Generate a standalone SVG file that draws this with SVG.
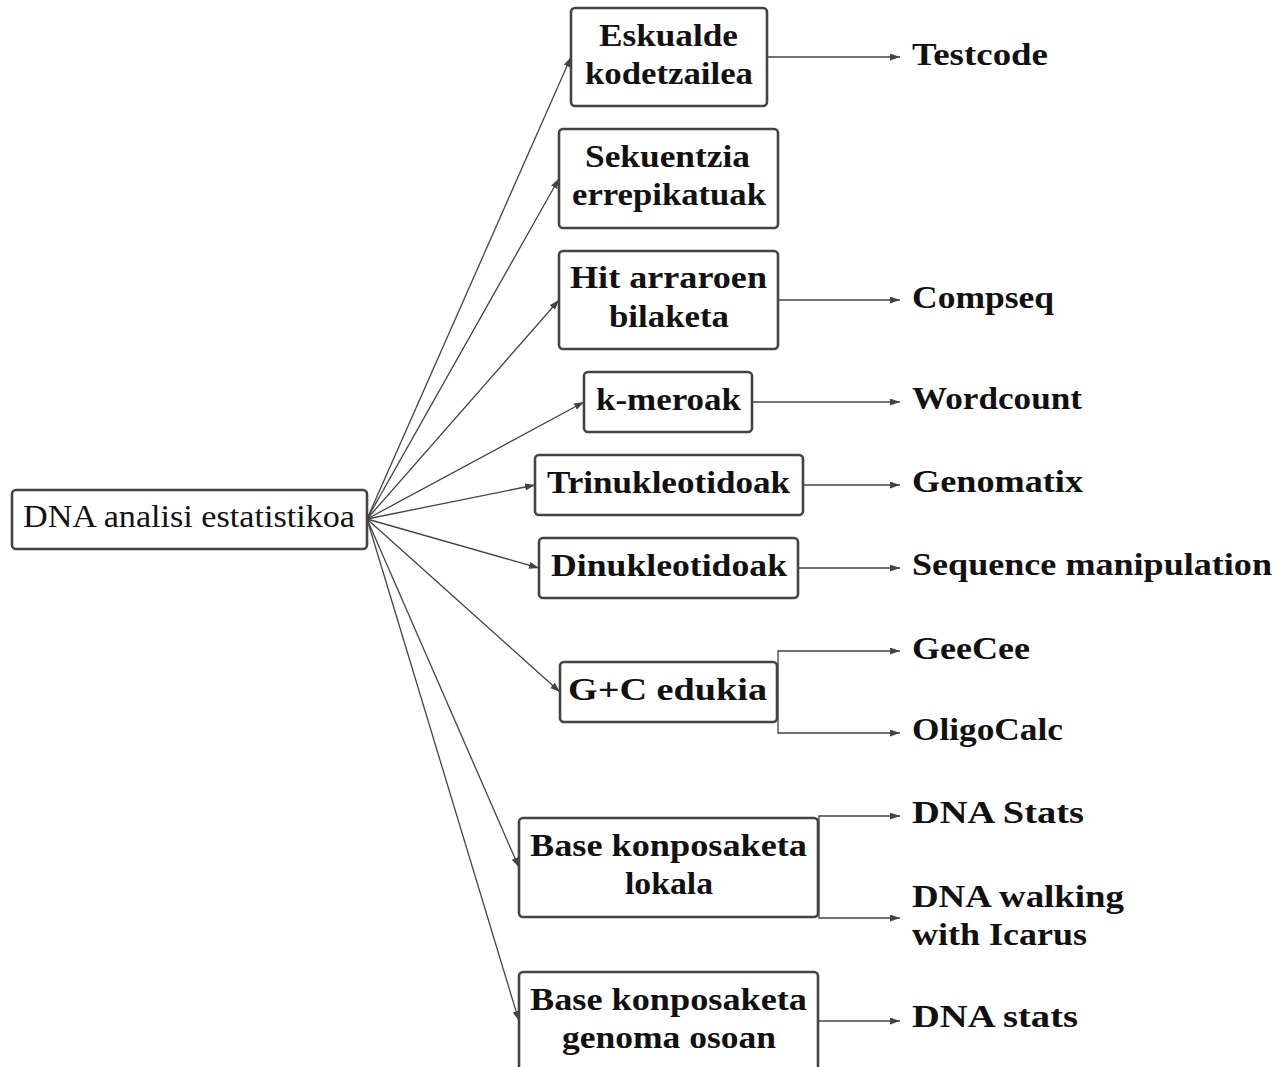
<svg xmlns="http://www.w3.org/2000/svg" width="1286" height="1067" viewBox="0 0 1286 1067">
<defs>
<marker id="arr" markerUnits="userSpaceOnUse" markerWidth="11" markerHeight="8" refX="10" refY="3.5" orient="auto">
<path d="M0,0 L10,3.5 L0,7 z" fill="#444"/>
</marker>
<style>
.box{fill:#fff;stroke:#444;stroke-width:2.6}
.b{font-family:"Liberation Serif","Times New Roman",serif;font-weight:bold;font-size:31px;fill:#111}
.r{font-family:"Liberation Serif","Times New Roman",serif;font-size:32px;fill:#111}
.c{fill:none;stroke:#444;stroke-width:1.3;marker-end:url(#arr)}
</style>
</defs>
<rect width="1286" height="1067" fill="#fff"/>
<g id="connectors">
<path class="c" d="M367,519 L571,57"/>
<path class="c" d="M367,519 L559,178.5"/>
<path class="c" d="M367,519 L559,300"/>
<path class="c" d="M367,519 L584,402"/>
<path class="c" d="M367,519 L535,485"/>
<path class="c" d="M367,519 L539,568"/>
<path class="c" d="M367,519 L560,692"/>
<path class="c" d="M367,519 L519,867.5"/>
<path class="c" d="M367,519 L519,1021"/>
<path class="c" d="M767,57 H900"/>
<path class="c" d="M778,300 H900"/>
<path class="c" d="M752,402 H900"/>
<path class="c" d="M803,485 H900"/>
<path class="c" d="M798,568 H900"/>
<path class="c" d="M778,692 V651 H900"/>
<path class="c" d="M778,692 V733 H900"/>
<path class="c" d="M819,867 V816 H900"/>
<path class="c" d="M819,867 V918 H900"/>
<path class="c" d="M818,1021 H900"/>
</g>
<g id="root">
<rect class="box" x="12" y="490" width="355" height="59" rx="4"/>
<text class="r" x="23" y="527" textLength="332" lengthAdjust="spacingAndGlyphs">DNA analisi estatistikoa</text>
</g>
<g id="n1">
<rect class="box" x="571" y="8" width="196" height="98" rx="4"/>
<text class="b" x="599" y="45.5" textLength="139" lengthAdjust="spacingAndGlyphs">Eskualde</text>
<text class="b" x="585" y="83.5" textLength="168" lengthAdjust="spacingAndGlyphs">kodetzailea</text>
</g>
<g id="n2">
<rect class="box" x="559" y="129" width="219" height="99" rx="4"/>
<text class="b" x="585" y="167" textLength="165" lengthAdjust="spacingAndGlyphs">Sekuentzia</text>
<text class="b" x="572" y="205" textLength="194" lengthAdjust="spacingAndGlyphs">errepikatuak</text>
</g>
<g id="n3">
<rect class="box" x="559" y="251" width="219" height="98" rx="4"/>
<text class="b" x="570" y="288" textLength="197" lengthAdjust="spacingAndGlyphs">Hit arraroen</text>
<text class="b" x="609" y="326.5" textLength="120" lengthAdjust="spacingAndGlyphs">bilaketa</text>
</g>
<g id="n4">
<rect class="box" x="584" y="372" width="168" height="60" rx="4"/>
<text class="b" x="596" y="410" textLength="145" lengthAdjust="spacingAndGlyphs">k-meroak</text>
</g>
<g id="n5">
<rect class="box" x="535" y="455" width="268" height="60" rx="4"/>
<text class="b" x="547" y="493" textLength="243" lengthAdjust="spacingAndGlyphs">Trinukleotidoak</text>
</g>
<g id="n6">
<rect class="box" x="539" y="538" width="259" height="60" rx="4"/>
<text class="b" x="551" y="576" textLength="236" lengthAdjust="spacingAndGlyphs">Dinukleotidoak</text>
</g>
<g id="n7">
<rect class="box" x="560" y="662" width="217" height="60" rx="4"/>
<text class="b" x="568" y="700" textLength="199" lengthAdjust="spacingAndGlyphs">G+C edukia</text>
</g>
<g id="n8">
<rect class="box" x="519" y="818" width="299" height="99" rx="4"/>
<text class="b" x="530" y="856" textLength="277" lengthAdjust="spacingAndGlyphs">Base konposaketa</text>
<text class="b" x="625" y="894" textLength="88" lengthAdjust="spacingAndGlyphs">lokala</text>
</g>
<g id="n9">
<rect class="box" x="519" y="972" width="299" height="99" rx="4"/>
<text class="b" x="530" y="1010" textLength="277" lengthAdjust="spacingAndGlyphs">Base konposaketa</text>
<text class="b" x="562" y="1048" textLength="214" lengthAdjust="spacingAndGlyphs">genoma osoan</text>
</g>
<g id="t1"><text class="b" x="912" y="65" textLength="136" lengthAdjust="spacingAndGlyphs">Testcode</text></g>
<g id="t2"><text class="b" x="912" y="308" textLength="142" lengthAdjust="spacingAndGlyphs">Compseq</text></g>
<g id="t3"><text class="b" x="912" y="409" textLength="170" lengthAdjust="spacingAndGlyphs">Wordcount</text></g>
<g id="t4"><text class="b" x="912" y="492" textLength="171" lengthAdjust="spacingAndGlyphs">Genomatix</text></g>
<g id="t5"><text class="b" x="912" y="575" textLength="360" lengthAdjust="spacingAndGlyphs">Sequence manipulation</text></g>
<g id="t6"><text class="b" x="912" y="659" textLength="118" lengthAdjust="spacingAndGlyphs">GeeCee</text></g>
<g id="t7"><text class="b" x="912" y="740" textLength="151" lengthAdjust="spacingAndGlyphs">OligoCalc</text></g>
<g id="t8"><text class="b" x="912" y="823" textLength="172" lengthAdjust="spacingAndGlyphs">DNA Stats</text></g>
<g id="t9">
<text class="b" x="912" y="907" textLength="212" lengthAdjust="spacingAndGlyphs">DNA walking</text>
<text class="b" x="912" y="945" textLength="175" lengthAdjust="spacingAndGlyphs">with Icarus</text>
</g>
<g id="t10"><text class="b" x="912" y="1027" textLength="166" lengthAdjust="spacingAndGlyphs">DNA stats</text></g>
</svg>
